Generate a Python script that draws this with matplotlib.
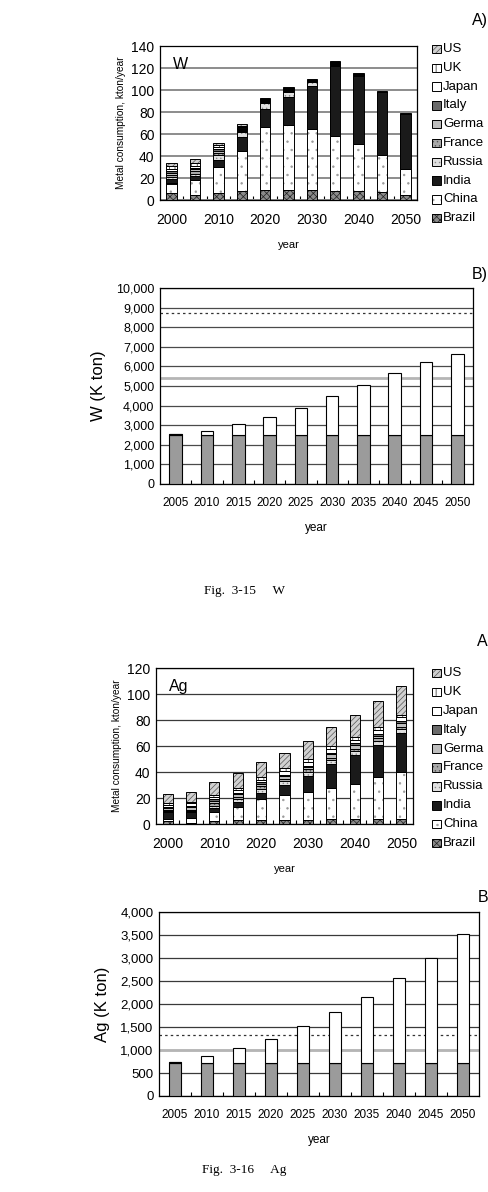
import matplotlib
matplotlib.use("Agg")
import matplotlib.pyplot as plt
from matplotlib.patches import Rectangle
import numpy as np

plt.rcParams['font.family'] = ['Liberation Sans', 'DejaVu Sans']
plt.rcParams['hatch.linewidth'] = 0.5

# ---------------- data ----------------
countries = ["Brazil", "China", "India", "Russia", "France", "Germany", "Italy", "Japan", "UK", "US"]
legend_labels_w = ["Brazil", "China", "India", "Russia", "France", "Germa", "Italy", "Japan", "UK", "US"]
legend_labels_ag = ["Brazil", "China", "India", "Russia", "France", "Germa", "Italy", "Japan", "UK", "US"]
years_a = [2000, 2005, 2010, 2015, 2020, 2025, 2030, 2035, 2040, 2045, 2050]
years_b = [2005, 2010, 2015, 2020, 2025, 2030, 2035, 2040, 2045, 2050]

w_brazil = [6, 5, 6, 8, 9, 9, 9, 8, 8, 7, 5]
w_china = [9, 13, 24, 37, 57, 59, 56, 50, 43, 34, 23]
w_india = [4, 4, 6, 12, 17, 26, 39, 64, 62, 57, 50]
w_russia = [2, 2, 5, 5, 5, 4, 3, 1, 0.5, 0, 0]
w_france = [2, 2, 2, 1, 1, 1, 0.5, 0.5, 0, 0, 0]
w_germany = [2, 2, 2, 1, 1, 1, 0.5, 0.5, 0, 0, 0]
w_italy = [1, 1, 1, 1, 0.5, 0.5, 0.5, 0.5, 0, 0, 0]
w_japan = [2, 2, 2, 1, 1, 1, 0.5, 0.5, 0.5, 0, 0]
w_uk = [3, 3, 2, 1, 0.5, 0.5, 0.5, 0.5, 0.5, 0.5, 0.5]
w_us = [3, 3, 2, 2, 0.5, 1, 0.5, 1, 0.5, 0.5, 0.5]

ag_brazil = [2, 1, 2, 3, 3, 3, 3, 4, 4, 4, 4]
ag_china = [2, 4, 7, 10, 16, 19, 22, 24, 27, 32, 36]
ag_india = [5, 4, 3, 4, 5, 8, 12, 18, 22, 25, 30]
ag_russia = [1, 1, 2, 2, 3, 3, 3, 3, 3, 3, 3]
ag_france = [1, 1, 2, 2, 2, 2, 2, 2, 2, 2, 2]
ag_germany = [1, 2, 2, 2, 2, 2, 2, 3, 3, 2, 3]
ag_italy = [1, 1, 1, 1, 1, 1, 1, 1, 1, 1, 1]
ag_japan = [2, 2, 2, 2, 2, 3, 3, 3, 3, 3, 3]
ag_uk = [1, 1, 1, 2, 2, 2, 2, 2, 2, 3, 2]
ag_us = [7, 8, 10, 11, 12, 12, 14, 15, 17, 20, 22]

w_b_base = [2480, 2480, 2480, 2480, 2480, 2480, 2480, 2480, 2480, 2480]
w_b_dark = [80, 0, 0, 0, 0, 0, 0, 0, 0, 0]
w_b_total = [2560, 2700, 3050, 3440, 3900, 4470, 5030, 5640, 6200, 6610]
w_b_dotted = 8750
w_b_grayline = 5410

ag_b_base = [715, 715, 715, 715, 715, 715, 715, 715, 715, 715]
ag_b_dark = [25, 0, 0, 0, 0, 0, 0, 0, 0, 0]
ag_b_total = [740, 862, 1035, 1244, 1526, 1816, 2155, 2568, 3010, 3530]
ag_b_dotted = 1317
ag_b_grayline = 998

# ---------------- styles ----------------
styles = {
    "Brazil": dict(fc="#8a8a8a", hatch="xxxxx", hc="#222222"),
    "China": dict(fc="white", hatch="..", hc="#9a9a9a"),
    "India": dict(fc="#1a1a1a", hatch=None, hc="#1a1a1a"),
    "Russia": dict(fc="#e0e0e0", hatch="....", hc="#8a8a8a"),
    "France": dict(fc="#a8a8a8", hatch="....", hc="#555555"),
    "Germany": dict(fc="#bdbdbd", hatch=None, hc="#bdbdbd"),
    "Italy": dict(fc="#6a6a6a", hatch=None, hc="#6a6a6a"),
    "Japan": dict(fc="white", hatch=None, hc="white"),
    "UK": dict(fc="white", hatch="|||", hc="#222222"),
    "US": dict(fc="#d0d0d0", hatch="//////", hc="#555555"),
}

W, H = 488, 1192
fig = plt.figure(figsize=(W / 100, H / 100), dpi=100)


def ax_px(l, t, r, b):
    return fig.add_axes([l / W, 1 - b / H, (r - l) / W, (b - t) / H])


def stacked(ax, series, width):
    x = np.arange(len(series[0]))
    bottom = np.zeros(len(x))
    for name, vals in zip(countries, series):
        st = styles[name]
        vals = np.array(vals, dtype=float)
        ax.bar(x, vals, width, bottom=bottom, color=st["fc"], hatch=st["hatch"],
               edgecolor=st["hc"], linewidth=0, zorder=3)
        ax.bar(x, vals, width, bottom=bottom, fill=False, edgecolor="black",
               linewidth=0.7, zorder=4)
        bottom += vals
    return x


def style_axes(ax, n, grid_color, grid_lw):
    ax.set_xlim(-0.5, n - 0.5)
    ax.yaxis.grid(True, color=grid_color, linewidth=grid_lw, zorder=1)
    ax.set_axisbelow(True)
    for s in ax.spines.values():
        s.set_linewidth(0.9)
        s.set_color("black")
    ax.tick_params(axis="y", length=0, pad=4)
    ax.set_xticks(np.arange(n - 1) + 0.5, minor=True)
    ax.tick_params(axis="x", which="minor", direction="in", length=3, width=0.8)
    ax.tick_params(axis="x", which="major", length=0)


def legend(x0, y0, dy, labels_in):
    order = list(reversed(countries))
    labels = list(reversed(labels_in))
    for i, (name, lab) in enumerate(zip(order, labels)):
        st = styles[name]
        yc = y0 + i * dy
        s = 8.5
        fig.patches.append(Rectangle((x0 / W, 1 - (yc + s / 2) / H), s / W, s / H,
                                     transform=fig.transFigure, facecolor=st["fc"],
                                     hatch=st["hatch"], edgecolor=st["hc"], linewidth=0))
        fig.patches.append(Rectangle((x0 / W, 1 - (yc + s / 2) / H), s / W, s / H,
                                     transform=fig.transFigure, fill=False,
                                     edgecolor="black", linewidth=0.7))
        fig.text((x0 + 11) / W, 1 - yc / H, lab, fontsize=9.5, va="center", ha="left")


# ---------------- Panel W A ----------------
axA = ax_px(160, 46, 417, 200)
stacked(axA, [w_brazil, w_china, w_india, w_russia, w_france, w_germany,
              w_italy, w_japan, w_uk, w_us], 0.45)
style_axes(axA, len(years_a), "#8c8c8c", 1.4)
axA.set_ylim(0, 140)
axA.set_yticks(np.arange(0, 141, 20))
axA.set_xticks(np.arange(0, len(years_a), 2))
axA.set_xticklabels([str(y) for y in years_a[::2]], fontsize=10)
axA.tick_params(axis="x", which="major", pad=9)
axA.tick_params(axis="y", labelsize=10)
axA.set_ylabel("Metal consumption, kton/year", fontsize=7.3, labelpad=4)
axA.set_xlabel("year", fontsize=8, labelpad=10)
axA.text(0.05, 0.93, "W", transform=axA.transAxes, fontsize=11.5, va="top", ha="left")
legend(432, 49, 18.8, legend_labels_w)
fig.text(488 / W, 1 - 20 / H, "A)", fontsize=11.5, ha="right", va="center")

# ---------------- Panel W B ----------------
axB = ax_px(160, 288, 473, 484)
xb = np.arange(len(years_b))
axB.bar(xb, w_b_base, 0.4, color="#9b9b9b", edgecolor="black", linewidth=0.8, zorder=3)
axB.bar(xb, w_b_dark, 0.4, bottom=w_b_base, color="#333333", edgecolor="black",
        linewidth=0.8, zorder=3)
w_white = np.array(w_b_total) - np.array(w_b_base) - np.array(w_b_dark)
axB.bar(xb, w_white, 0.4, bottom=np.array(w_b_base) + np.array(w_b_dark), color="white",
        edgecolor="black", linewidth=0.8, zorder=3)
style_axes(axB, len(years_b), "#4a4a4a", 0.9)
axB.axhline(w_b_dotted, color="#333333", linestyle=(0, (2, 2.5)), linewidth=0.9, zorder=2)
axB.axhline(w_b_grayline, color="#b5b5b5", linewidth=2.0, zorder=2)
axB.set_ylim(0, 10000)
axB.set_yticks(np.arange(0, 10001, 1000))
axB.set_yticklabels([f"{v:,}" for v in range(0, 10001, 1000)], fontsize=9)
axB.set_xticks(xb)
axB.set_xticklabels([str(y) for y in years_b], fontsize=8.5)
axB.tick_params(axis="x", which="major", pad=9)
axB.set_ylabel("W (K ton)", fontsize=12, labelpad=7)
axB.set_xlabel("year", fontsize=8.5, labelpad=10)
fig.text(488 / W, 1 - 274 / H, "B)", fontsize=11.5, ha="right", va="center")

fig.text(0.5, 1 - 591 / H, "Fig.  3-15     W", fontsize=9.5, ha="center", va="center",
         family=["Liberation Serif", "DejaVu Serif"])

# ---------------- Panel Ag A ----------------
axC = ax_px(156, 668, 413, 824)
stacked(axC, [ag_brazil, ag_china, ag_india, ag_russia, ag_france, ag_germany,
              ag_italy, ag_japan, ag_uk, ag_us], 0.43)
style_axes(axC, len(years_a), "#3a3a3a", 0.9)
axC.set_ylim(0, 120)
axC.set_yticks(np.arange(0, 121, 20))
axC.set_xticks(np.arange(0, len(years_a), 2))
axC.set_xticklabels([str(y) for y in years_a[::2]], fontsize=10)
axC.tick_params(axis="x", which="major", pad=9)
axC.tick_params(axis="y", labelsize=10)
axC.set_ylabel("Metal consumption, kton/year", fontsize=7.3, labelpad=4)
axC.set_xlabel("year", fontsize=8, labelpad=10)
axC.text(0.05, 0.93, "Ag", transform=axC.transAxes, fontsize=11.5, va="top", ha="left")
legend(432, 673, 18.9, legend_labels_ag)
fig.text(488 / W, 1 - 642 / H, "A", fontsize=11.5, ha="right", va="center")

# ---------------- Panel Ag B ----------------
axD = ax_px(159, 912, 479, 1096)
axD.bar(xb, ag_b_base, 0.4, color="#9b9b9b", edgecolor="black", linewidth=0.8, zorder=3)
axD.bar(xb, ag_b_dark, 0.4, bottom=ag_b_base, color="#333333", edgecolor="black",
        linewidth=0.8, zorder=3)
ag_white = np.array(ag_b_total) - np.array(ag_b_base) - np.array(ag_b_dark)
axD.bar(xb, ag_white, 0.4, bottom=np.array(ag_b_base) + np.array(ag_b_dark), color="white",
        edgecolor="black", linewidth=0.8, zorder=3)
style_axes(axD, len(years_b), "#3a3a3a", 0.9)
axD.axhline(ag_b_dotted, color="#333333", linestyle=(0, (2, 2.5)), linewidth=0.9, zorder=2)
axD.axhline(ag_b_grayline, color="#b5b5b5", linewidth=2.0, zorder=2)
axD.set_ylim(0, 4000)
axD.set_yticks(np.arange(0, 4001, 500))
axD.set_yticklabels([f"{v:,}" for v in range(0, 4001, 500)], fontsize=9.5)
axD.set_xticks(xb)
axD.set_xticklabels([str(y) for y in years_b], fontsize=8.5)
axD.tick_params(axis="x", which="major", pad=9)
axD.set_ylabel("Ag (K ton)", fontsize=12, labelpad=7)
axD.set_xlabel("year", fontsize=8.5, labelpad=10)
fig.text(488 / W, 1 - 897 / H, "B", fontsize=11.5, ha="right", va="center")

fig.text(0.5, 1 - 1170 / H, "Fig.  3-16     Ag", fontsize=9.5, ha="center", va="center",
         family=["Liberation Serif", "DejaVu Serif"])

fig.savefig("out.png", dpi=100)
